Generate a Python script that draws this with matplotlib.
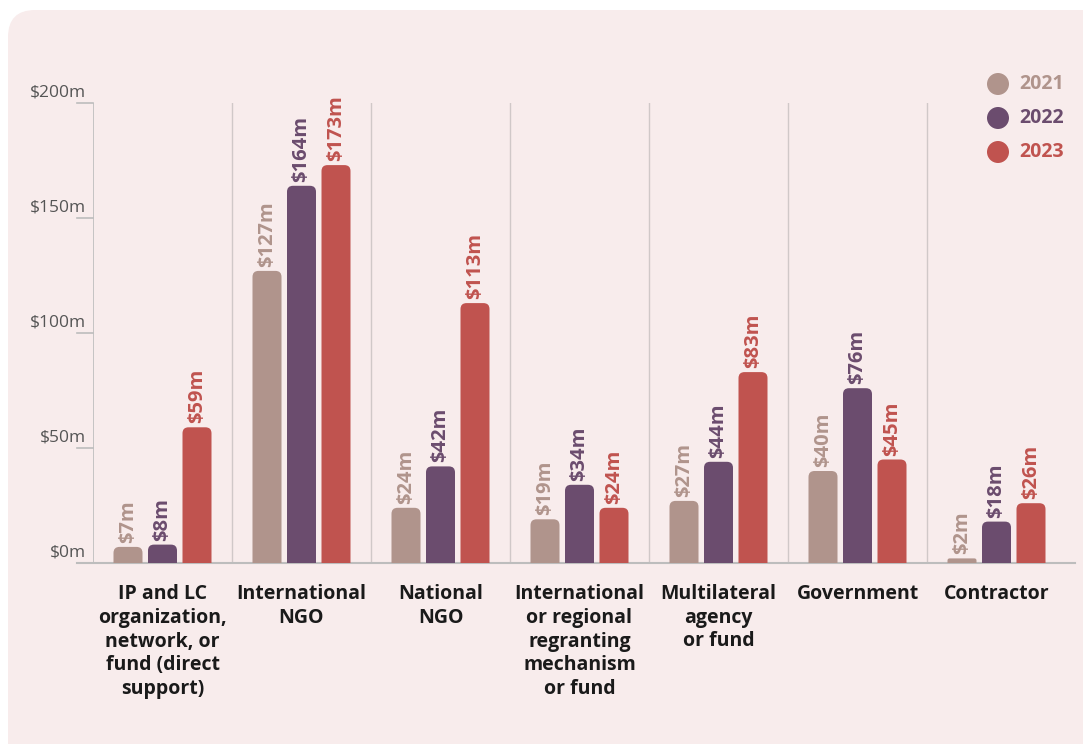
import matplotlib.pyplot as plt
from matplotlib.patches import FancyBboxPatch, Ellipse
from matplotlib.lines import Line2D
import matplotlib.transforms as mtransforms

plt.rcParams['font.family'] = ['Open Sans', 'DejaVu Sans']

categories = ['IP and LC\norganization,\nnetwork, or\nfund (direct\nsupport)',
              'International\nNGO', 'National\nNGO',
              'International\nor regional\nregranting\nmechanism\nor fund',
              'Multilateral\nagency\nor fund', 'Government', 'Contractor']
years = ['2021', '2022', '2023']
v2021 = [7, 127, 24, 19, 27, 40, 2]
v2022 = [8, 164, 42, 34, 44, 76, 18]
v2023 = [59, 173, 113, 24, 83, 45, 26]
yticks = [0, 50, 100, 150, 200]
ytick_labels = ['$0m', '$50m', '$100m', '$150m', '$200m']

colors = ['#b0948c', '#6b4c6e', '#c0534f']
bg = '#f8ecec'

fig = plt.figure(figsize=(10.83, 7.44), dpi=100)
fig.patch.set_facecolor('white')

# rounded background panel
panel = FancyBboxPatch((8 / 1083, -0.05), 1.2, 0.05 + (744 - 10) / 744,
                       boxstyle='round,pad=0,rounding_size=0.025',
                       transform=fig.transFigure, facecolor=bg, edgecolor='none',
                       mutation_aspect=1083 / 744, zorder=-5)
fig.patches.append(panel)

ax = fig.add_axes([93 / 1083, (744 - 563) / 744, 973 / 1083, 460 / 744])
ax.set_zorder(2)
ax.set_facecolor('none')
ax.set_xlim(-0.5, 6.5)
ax.set_ylim(0, 200)
for s in ax.spines.values():
    s.set_visible(False)
ax.set_xticks([])
ax.set_yticks([])

grey = '#bdbdbd'
# left axis + separators
for i in range(7):
    ax.axvline(i - 0.5, color=grey if i == 0 else '#d0c8c8', lw=1.2 if i == 0 else 1, zorder=1)

# baseline extending past the axes
ax.add_line(Line2D([-16 / 973, 1 + 9 / 973], [0, 0], transform=ax.transAxes,
                   color=grey, lw=1.5, clip_on=False, zorder=1))

# y ticks and labels
trans = mtransforms.blended_transform_factory(ax.transAxes, ax.transData)
for t, lab in zip(yticks, ytick_labels):
    ax.add_line(Line2D([-16 / 973, 0], [t, t], transform=trans, color=grey,
                       lw=1.2, clip_on=False))
    ax.text(-7 / 973, t + 1.2, lab, transform=trans, ha='right', va='bottom',
            fontsize=12.5, color='#555555')

px_x = 1 / 139.0
px_y = 200 / 460.0
bw = 29 * px_x
offs = [-34.5 * px_x, 0, 34.5 * px_x]
series = [v2021, v2022, v2023]
asp = px_y / px_x

for k, vals in enumerate(series):
    for i, v in enumerate(vals):
        x0 = i + offs[k] - bw / 2
        r = min(6 * px_y, v * 0.45)
        p = FancyBboxPatch((x0, -r), bw, v + r,
                           boxstyle='round,pad=0,rounding_size=%f' % (r / asp),
                           mutation_aspect=asp,
                           facecolor=colors[k], edgecolor='none', zorder=2)
        ax.add_patch(p)
        ax.text(i + offs[k], v + 4 * px_y, '$%dm' % v, rotation=90,
                ha='center', va='bottom', fontsize=14.5, fontweight='bold',
                color=colors[k], zorder=3)

# category labels
for i, c in enumerate(categories):
    ax.text(i, -21 * px_y, c, ha='center', va='top', fontsize=14,
            fontweight='bold', color='#1a1a1a', linespacing=1.25, clip_on=False)

# legend
for k, y in enumerate(years):
    fy = 1 - [84, 118, 152][k] / 744
    fig.patches.append(Ellipse((998 / 1083, fy), 22 / 1083, 22 / 744,
                               transform=fig.transFigure,
                               facecolor=colors[k], edgecolor='none'))
    fig.text(1019 / 1083, fy, y, ha='left', va='center', fontsize=14,
             fontweight='bold', color=colors[k])

fig.savefig('out.png', dpi=100)
